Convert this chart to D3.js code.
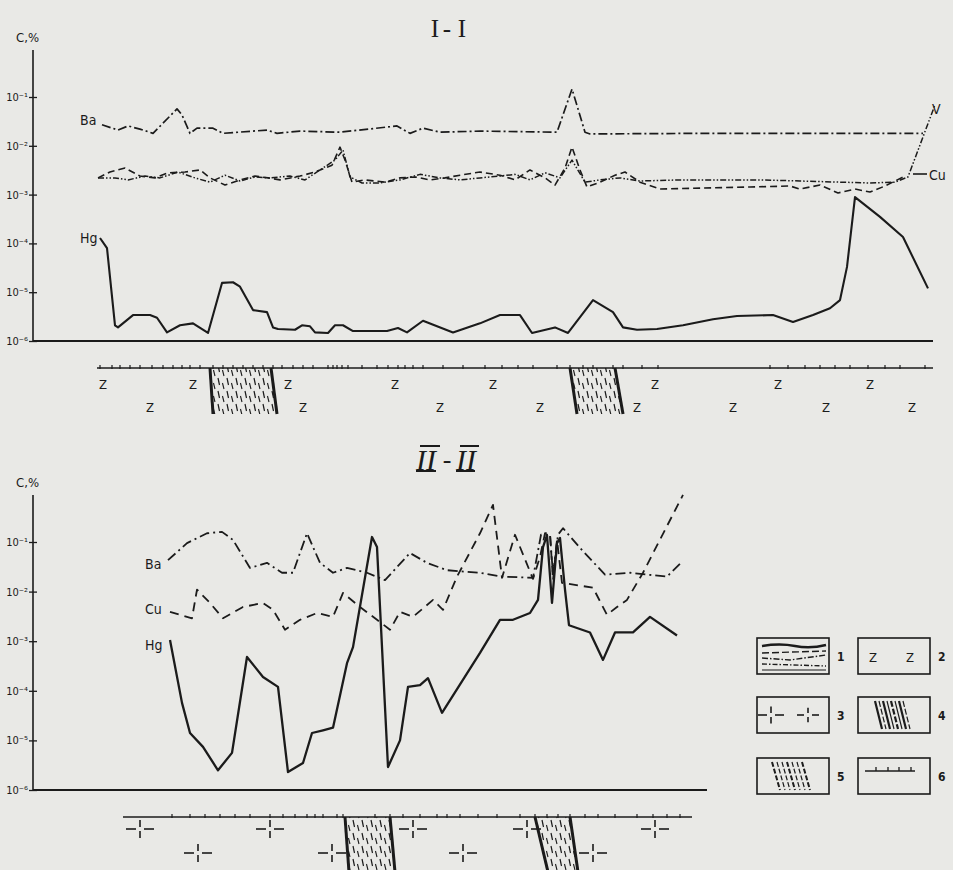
<!DOCTYPE html>
<html><head><meta charset="utf-8">
<script src="https://cdn.jsdelivr.net/npm/d3@7"></script>
<style>body{margin:0;background:#e9e9e6;} svg{display:block}</style>
</head><body><svg id="c" width="953" height="870"></svg>
<script>
// ---------- DATA (distance along profile, concentration C, %) ----------
// Profile I-I
const hgTop = [[67,1.29e-4],[74,8.0e-5],[82,2.1e-6],[85,1.9e-6],[100,3.4e-6],[117,3.4e-6],[124,3.0e-6],[134,1.5e-6],[147,2.1e-6],[160,2.3e-6],[175,1.46e-6],[189,1.55e-5],[200,1.6e-5],[207,1.3e-5],[220,4.3e-6],[234,3.9e-6],[240,1.9e-6],[245,1.76e-6],[262,1.7e-6],[269,2.1e-6],[277,2.0e-6],[282,1.5e-6],[295,1.46e-6],[302,2.1e-6],[310,2.1e-6],[320,1.6e-6],[354,1.6e-6],[365,1.85e-6],[374,1.5e-6],[390,2.6e-6],[420,1.5e-6],[447,2.3e-6],[467,3.4e-6],[487,3.4e-6],[499,1.46e-6],[522,1.9e-6],[535,1.46e-6],[560,6.9e-6],[580,3.9e-6],[590,1.9e-6],[604,1.7e-6],[624,1.76e-6],[650,2.1e-6],[680,2.8e-6],[704,3.25e-6],[740,3.4e-6],[760,2.45e-6],[780,3.4e-6],[797,4.7e-6],[807,6.9e-6],[814,3.3e-5],[822,8.9e-4],[847,3.5e-4],[870,1.35e-4],[895,1.2e-5]];
const baTop = [[69,0.027],[85,0.021],[95,0.0255],[107,0.022],[120,0.018],[144,0.057],[149,0.043],[157,0.018],[164,0.023],[180,0.023],[190,0.018],[234,0.021],[244,0.018],[267,0.020],[307,0.019],[364,0.0255],[377,0.018],[390,0.023],[407,0.019],[447,0.020],[524,0.019],[539,0.146],[552,0.019],[557,0.0175],[667,0.018],[767,0.018],[890,0.018]];
const vTop = [[65,2.2e-3],[82,2.2e-3],[95,2.0e-3],[112,2.4e-3],[127,2.2e-3],[145,2.9e-3],[162,2.2e-3],[177,1.8e-3],[192,2.5e-3],[207,1.9e-3],[222,2.3e-3],[237,2.2e-3],[257,2.4e-3],[272,2.0e-3],[287,3.2e-3],[302,5.1e-3],[310,8.2e-3],[317,2.3e-3],[329,1.73e-3],[347,1.73e-3],[367,2.0e-3],[387,2.6e-3],[407,2.2e-3],[427,2.0e-3],[447,2.2e-3],[467,2.4e-3],[482,2.6e-3],[497,2.0e-3],[512,2.8e-3],[527,2.2e-3],[539,5.1e-3],[552,1.8e-3],[567,2.0e-3],[587,2.2e-3],[607,1.9e-3],[647,2.0e-3],[687,2.0e-3],[727,2.0e-3],[767,1.9e-3],[807,1.8e-3],[837,1.73e-3],[862,1.8e-3],[875,2.3e-3],[902,0.069]];
const cuTop = [[65,2.2e-3],[77,2.9e-3],[92,3.5e-3],[107,2.4e-3],[122,2.2e-3],[135,2.8e-3],[152,2.9e-3],[167,3.2e-3],[177,2.2e-3],[192,1.57e-3],[207,2.0e-3],[222,2.4e-3],[235,2.2e-3],[247,2.0e-3],[267,2.4e-3],[282,2.9e-3],[299,4.0e-3],[307,9.4e-3],[312,5.1e-3],[319,1.8e-3],[332,2.0e-3],[352,1.8e-3],[367,2.2e-3],[382,2.3e-3],[397,2.0e-3],[412,2.2e-3],[427,2.5e-3],[447,2.9e-3],[467,2.5e-3],[482,2.0e-3],[497,3.2e-3],[512,2.2e-3],[522,1.57e-3],[532,3.5e-3],[539,9.4e-3],[547,3.2e-3],[554,1.43e-3],[567,1.8e-3],[582,2.5e-3],[592,2.9e-3],[607,1.8e-3],[627,1.3e-3],[667,1.36e-3],[717,1.43e-3],[757,1.5e-3],[767,1.3e-3],[787,1.57e-3],[805,1.08e-3],[822,1.3e-3],[837,1.13e-3],[852,1.5e-3],[872,2.4e-3]];
// Profile II-II
const hgBot = [[137,1.06e-3],[149,5.7e-5],[157,1.41e-5],[170,7.4e-6],[185,2.5e-6],[199,5.6e-6],[214,4.8e-4],[230,1.9e-4],[245,1.2e-4],[255,2.3e-6],[270,3.5e-6],[279,1.41e-5],[290,1.6e-5],[300,1.8e-5],[314,3.6e-4],[320,7.6e-4],[339,0.126],[344,0.079],[355,2.9e-6],[367,1.0e-5],[375,1.2e-4],[387,1.3e-4],[395,1.8e-4],[409,3.6e-5],[447,5.8e-4],[467,2.7e-3],[480,2.7e-3],[497,3.7e-3],[505,6.8e-3],[510,0.079],[514,0.138],[519,5.9e-3],[524,0.095],[527,0.12],[532,0.011],[536,2.1e-3],[557,1.5e-3],[570,4.2e-4],[582,1.5e-3],[600,1.5e-3],[617,3.1e-3],[644,1.3e-3]];
const baBot = [[135,0.043],[154,0.095],[174,0.15],[189,0.16],[200,0.11],[217,0.030],[234,0.038],[249,0.024],[260,0.024],[274,0.15],[287,0.038],[300,0.024],[314,0.030],[334,0.024],[352,0.017],[377,0.060],[394,0.038],[414,0.027],[434,0.025],[447,0.024],[469,0.020],[500,0.019],[508,0.14],[517,0.14],[520,0.022],[525,0.14],[530,0.19],[547,0.076],[572,0.022],[597,0.024],[634,0.020],[649,0.040]];
const cuBot = [[137,3.9e-3],[159,2.9e-3],[164,0.011],[177,5.9e-3],[190,2.9e-3],[210,4.9e-3],[230,5.9e-3],[240,4.3e-3],[252,1.7e-3],[267,2.7e-3],[284,3.7e-3],[300,3.1e-3],[310,9.4e-3],[327,4.9e-3],[344,2.7e-3],[357,1.7e-3],[367,3.9e-3],[380,3.1e-3],[400,6.8e-3],[410,4.3e-3],[424,0.020],[447,0.15],[460,0.56],[469,0.019],[482,0.14],[500,0.018],[507,0.050],[512,0.15],[517,0.15],[520,0.017],[524,0.11],[529,0.015],[560,0.012],[574,3.4e-3],[584,4.9e-3],[594,6.8e-3],[610,0.024],[650,0.89]];
// axis ticks
const yTicks = [1e-1,1e-2,1e-3,1e-4,1e-5,1e-6];
const tickLabels = ["10\u207B\u00B9","10\u207B\u00B2","10\u207B\u00B3","10\u207B\u2074","10\u207B\u2075","10\u207B\u2076"];
// geological strip (positions along profile)
const topStripTicks = [67,79,87,97,107,119,130,140,149,157,167,180,190,200,210,220,230,240,249,260,270,280,295,300,304,309,315,329,344,355,365,372,380,390,410,430,452,469,485,500,524,537,550,560,580,590,609,625,737,755,772,787,802,817,835,852,867,892];
const topZRow1 = [70,160,255,362,460,622,745,837];
const topZRow2 = [117,270,407,507,604,700,793,879];
const topBlocks = [[177,180,238,244],[537,544,582,590]];
const botStripTicks = [139,157,172,187,202,217,237,250,262,274,282,290,304,310,342,357,370,387,404,414,427,445,464,487,502,514,525,537,552,565,582,604,620,634,647];
const botCrossRow1 = [107,237,380,494,622];
const botCrossRow2 = [165,299,430,560];
const botBlocks = [[312,316,357,362],[502,515,537,545]];
const legendNums = ["1","2","3","4","5","6"];

// ---------- DRAW ----------
const svg = d3.select("#c");
const INK = "#1b1b1b";
svg.append("rect").attr("width",953).attr("height",870).attr("fill","#e9e9e6");
const defs = svg.append("defs");
const pat = defs.append("pattern").attr("id","hatch").attr("patternUnits","userSpaceOnUse").attr("width",9).attr("height",13);
pat.append("line").attr("x1",2).attr("y1",1).attr("x2",3.5).attr("y2",8).attr("stroke",INK).attr("stroke-width",1.2);
pat.append("line").attr("x1",6.5).attr("y1",6).attr("x2",8).attr("y2",12).attr("stroke",INK).attr("stroke-width",1.1);

const lineFont = "'DejaVu Sans Condensed','DejaVu Sans',sans-serif";

function panel(o){
  const g = svg.append("g");
  const x = d3.scaleLinear().domain(o.xDomain).range(o.xRange);
  const y = d3.scaleLog().domain([1e-6,1e-1]).range(o.yRange);
  g.append("line").attr("x1",o.xRange[0]).attr("x2",o.xRange[0]).attr("y1",o.axisTop).attr("y2",o.yRange[0]).attr("stroke",INK).attr("stroke-width",1.6);
  const ax = d3.axisLeft(y).tickValues(yTicks).tickSize(4).tickPadding(2).tickFormat((d,i)=>tickLabels[i]);
  const ag = g.append("g").attr("transform",`translate(${o.xRange[0]},0)`).call(ax);
  ag.select(".domain").remove();
  ag.selectAll("line").attr("stroke",INK).attr("stroke-width",1.3).attr("x2",4).attr("x1",-4);
  ag.selectAll("text").attr("font-family",lineFont).attr("font-size",11).attr("fill",INK).attr("x",-5);
  g.append("line").attr("x1",o.xRange[0]).attr("x2",o.xRange[1]).attr("y1",o.yRange[0]).attr("y2",o.yRange[0]).attr("stroke",INK).attr("stroke-width",2);
  g.append("text").attr("x",o.xRange[0]-17).attr("y",o.axisTop-8).text("C,%").attr("font-family",lineFont).attr("font-size",13).attr("fill",INK);
  o.title(g);
  const line = d3.line().x(d=>x(d[0])).y(d=>y(d[1]));
  o.series.forEach(s=>{
    g.append("path").datum(s.data).attr("d",line).attr("fill","none").attr("stroke",INK)
      .attr("stroke-width",s.w).attr("stroke-dasharray",s.dash||null).attr("stroke-linejoin","round");
  });
  o.labels.forEach(l=>{
    g.append("text").attr("x",l.x).attr("y",l.y).text(l.t).attr("font-family",lineFont).attr("font-size",14).attr("fill",INK);
  });
  const sy = o.stripY;
  o.blocks.forEach(b=>{
    const pts = [[x(b[0]),sy],[x(b[2]),sy],[x(b[3]),o.blockBottom],[x(b[1]),o.blockBottom]];
    g.append("polygon").attr("points",pts.map(p=>p.join(",")).join(" ")).attr("fill","#e9e9e6");
  });
  if (o.crosses){
    o.crosses.forEach(r=>r.pos.forEach(p=>drawCross(g,x(p),r.y,14)));
  }
  o.blocks.forEach(b=>{
    const pts = [[x(b[0]),sy],[x(b[2]),sy],[x(b[3]),o.blockBottom],[x(b[1]),o.blockBottom]];
    g.append("polygon").attr("points",pts.map(p=>p.join(",")).join(" ")).attr("fill","url(#hatch)");
    g.append("line").attr("x1",x(b[0])).attr("y1",sy).attr("x2",x(b[1])).attr("y2",o.blockBottom).attr("stroke",INK).attr("stroke-width",3);
    g.append("line").attr("x1",x(b[2])).attr("y1",sy).attr("x2",x(b[3])).attr("y2",o.blockBottom).attr("stroke",INK).attr("stroke-width",3);
  });
  g.append("line").attr("x1",x(o.stripRange[0])).attr("x2",x(o.stripRange[1])).attr("y1",sy).attr("y2",sy).attr("stroke",INK).attr("stroke-width",1.5);
  o.stripTicks.forEach(t=>{
    g.append("line").attr("x1",x(t)).attr("x2",x(t)).attr("y1",sy-3).attr("y2",sy+1).attr("stroke",INK).attr("stroke-width",1.2);
  });
  if (o.zRows){
    o.zRows.forEach(r=>r.pos.forEach(p=>{
      g.append("text").attr("x",x(p)).attr("y",r.y).attr("text-anchor","middle").text("Z").attr("font-family",lineFont).attr("font-size",13).attr("fill",INK);
    }));
  }
}

function drawCross(g,cx,cy,a){
  const v = a*0.65;
  const segs = [[cx-a,cy,cx-4,cy],[cx+4,cy,cx+a,cy],[cx,cy-v,cx,cy-2],[cx,cy+2,cx,cy+v]];
  segs.forEach(s=>g.append("line").attr("x1",s[0]).attr("y1",s[1]).attr("x2",s[2]).attr("y2",s[3]).attr("stroke",INK).attr("stroke-width",1.6));
}

// Panel I-I
panel({
  xDomain:[0,900], xRange:[33,933], yRange:[341,97], axisTop:50,
  title:g=>{
    const tf="'Liberation Serif','DejaVu Serif',serif";
    [["I",435],["-",447],["I",462]].forEach(t=>g.append("text").attr("x",t[1]).attr("y",37).attr("text-anchor","middle").text(t[0]).attr("font-family",tf).attr("font-size",25).attr("fill",INK));
  },
  series:[
    {data:baTop,w:1.7,dash:"9,3,2,3"},
    {data:vTop,w:1.5,dash:"6,2,1.5,2,1.5,2"},
    {data:cuTop,w:1.6,dash:"7,4"},
    {data:hgTop,w:2.1}
  ],
  labels:[{x:80,y:125,t:"Ba"},{x:80,y:243,t:"Hg"},{x:932,y:114,t:"V"},{x:929,y:180,t:"Cu"}],
  stripY:368, blockBottom:414, stripRange:[64,900],
  stripTicks:topStripTicks, blocks:topBlocks,
  zRows:[{y:389,pos:topZRow1},{y:412,pos:topZRow2}]
});
svg.append("line").attr("x1",913).attr("x2",927).attr("y1",174).attr("y2",174).attr("stroke",INK).attr("stroke-width",1.6);

// Panel II-II
panel({
  xDomain:[0,674], xRange:[33,707], yRange:[790,542], axisTop:495,
  title:g=>{
    const tf="'Liberation Serif','DejaVu Serif',serif";
    g.append("text").attr("x",426).attr("y",470).attr("text-anchor","middle").text("II").attr("font-family",tf).attr("font-style","italic").attr("font-size",30).attr("fill",INK);
    g.append("text").attr("x",447).attr("y",468).attr("text-anchor","middle").text("-").attr("font-family",tf).attr("font-size",26).attr("fill",INK);
    g.append("text").attr("x",466).attr("y",470).attr("text-anchor","middle").text("II").attr("font-family",tf).attr("font-style","italic").attr("font-size",30).attr("fill",INK);
    [[417,437],[457,476]].forEach(b=>{
      g.append("line").attr("x1",b[0]+3).attr("x2",b[1]+3).attr("y1",446).attr("y2",446).attr("stroke",INK).attr("stroke-width",2);
      g.append("line").attr("x1",b[0]-1).attr("x2",b[1]-1).attr("y1",471).attr("y2",471).attr("stroke",INK).attr("stroke-width",2);
    });
  },
  series:[
    {data:baBot,w:1.8,dash:"10,4,2,4"},
    {data:cuBot,w:1.8,dash:"9,6"},
    {data:hgBot,w:2.3}
  ],
  labels:[{x:145,y:569,t:"Ba"},{x:145,y:614,t:"Cu"},{x:145,y:650,t:"Hg"}],
  stripY:817, blockBottom:872, stripRange:[90,659],
  stripTicks:botStripTicks, blocks:botBlocks,
  crosses:[{y:829,pos:botCrossRow1},{y:853,pos:botCrossRow2}]
});

// ---------- LEGEND ----------
const lg = svg.append("g");
const boxes = [[757,638],[858,638],[757,697],[858,697],[757,758],[858,758]];
boxes.forEach((b,i)=>{
  lg.append("rect").attr("x",b[0]).attr("y",b[1]).attr("width",72).attr("height",36).attr("fill","none").attr("stroke",INK).attr("stroke-width",1.6);
  lg.append("text").attr("x",b[0]+80).attr("y",b[1]+23).text(legendNums[i]).attr("font-family",lineFont).attr("font-size",12).attr("font-weight","bold").attr("fill",INK);
});
lg.append("path").attr("d","M762,646 Q780,643 795,646 T826,645").attr("fill","none").attr("stroke",INK).attr("stroke-width",2.4);
lg.append("path").attr("d","M762,653 L826,651").attr("fill","none").attr("stroke",INK).attr("stroke-width",1.4).attr("stroke-dasharray","7,3");
lg.append("path").attr("d","M762,658 L790,660 L826,655").attr("fill","none").attr("stroke",INK).attr("stroke-width",1.4).attr("stroke-dasharray","6,2,1.5,2");
lg.append("path").attr("d","M762,664 L826,666").attr("fill","none").attr("stroke",INK).attr("stroke-width",1.4).attr("stroke-dasharray","5,2,1.5,2");
lg.append("path").attr("d","M762,670 L826,670").attr("fill","none").attr("stroke",INK).attr("stroke-width",1.2);
[[873,662],[910,662]].forEach(p=>lg.append("text").attr("x",p[0]).attr("y",p[1]).attr("text-anchor","middle").text("Z").attr("font-family",lineFont).attr("font-size",13).attr("fill",INK));
drawCross(lg,771,715,13); drawCross(lg,808,715,11);
[875,879,883,887,891,895,899,903].forEach((s,i)=>{
  lg.append("line").attr("x1",s).attr("y1",701).attr("x2",s+7).attr("y2",729).attr("stroke",INK).attr("stroke-width",i%2?1.2:2.2).attr("stroke-dasharray",i%3==1?"6,2":null);
});
[772,777,782,787,792,797,802].forEach((s,i)=>{
  lg.append("line").attr("x1",s).attr("y1",762).attr("x2",s+8).attr("y2",790).attr("stroke",INK).attr("stroke-width",i%3==0?2:1.2).attr("stroke-dasharray","5,2");
});
lg.append("line").attr("x1",865).attr("x2",915).attr("y1",771).attr("y2",771).attr("stroke",INK).attr("stroke-width",1.5);
[876,888,899,911].forEach(t=>lg.append("line").attr("x1",t).attr("x2",t).attr("y1",767).attr("y2",771).attr("stroke",INK).attr("stroke-width",1.3));
</script></body></html>
